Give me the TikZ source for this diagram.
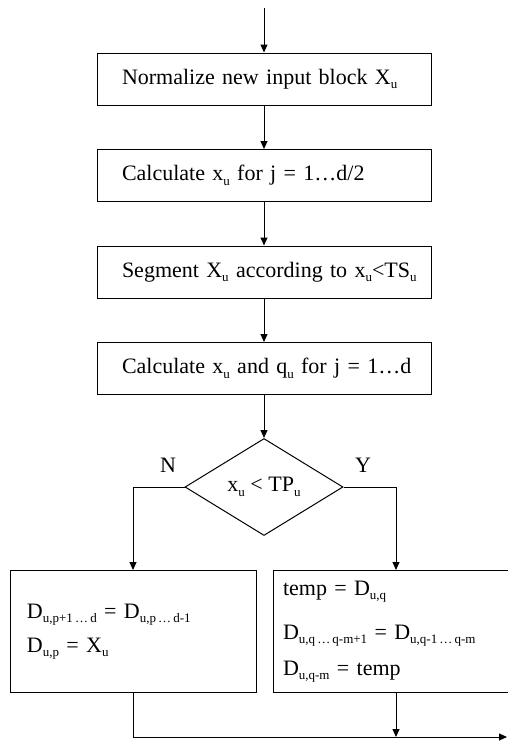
\documentclass[tikz,border=0pt]{standalone}
\usepackage{fontspec}
\setmainfont{Liberation Serif}
\usetikzlibrary{shapes.geometric,arrows.meta}
\newcommand\ix[1]{\raisebox{-0.45ex}{\fontsize{13}{13}\selectfont #1}}

\begin{document}
\begin{tikzpicture}[x=1pt,y=-1pt,
      blk/.style={draw,line width=1pt,minimum width=334pt,minimum height=52pt,
                  text width=284pt,align=left,inner sep=0pt,font=\fontsize{22}{26}\selectfont},
      upd/.style={draw,line width=1pt,minimum width=246pt,minimum height=122pt,
                  align=left,inner sep=0pt,font=\fontsize{22}{26}\selectfont},
      test/.style={draw,diamond,line width=1pt,minimum width=158pt,minimum height=97pt,
                   aspect=1.6,inner sep=0pt,font=\fontsize{22}{26}\selectfont},
      lbl/.style={font=\fontsize{22}{26}\selectfont,inner sep=0pt},
      go/.style={-{Triangle[length=8pt,width=7pt]},line width=1pt}]
    \useasboundingbox (0,0) rectangle (507,744);
    \coordinate (in) at (264,8);
    \node[blk] (norm) at (264,79)    {\mbox{Normalize new input block X\ix{u}}};
    \node[blk] (calc) at (264,175.5) {\mbox{Calculate x\ix{u} for j = 1…d/2}};
    \node[blk] (seg)  at (264,272)   {\mbox{Segment X\ix{u} according to x\ix{u}<TS\ix{u}}};
    \node[blk] (calq) at (264,368.5) {\mbox{Calculate x\ix{u} and q\ix{u} for j = 1…d}};
    \node[test] (cmp) at (264,487)   {x\ix{u} < TP\ix{u}};
    \node[lbl] (no)  at (168,465) {N};
    \node[lbl] (yes) at (363,465) {Y};
    \node[upd,text width=212pt] (keep) at (133,631.5)
      {D\ix{u,p+1\,…\,d} = D\ix{u,p\,…\,d-1}\\[8pt] D\ix{u,p} = X\ix{u}};
    \node[upd,text width=226pt] (shift) at (396,631.5)
      {temp = D\ix{u,q}\\[18pt] D\ix{u,q\,…\,q-m+1} = D\ix{u,q-1\,…\,q-m}\\[10pt] D\ix{u,q-m} = temp};
    \coordinate (out) at (507,737);
    \draw[go] (in) -- (norm);
    \draw[go] (norm) -- (calc);
    \draw[go] (calc) -- (seg);
    \draw[go] (seg) -- (calq);
    \draw[go] (calq) -- (cmp);
    \draw[go] (cmp.west) -| (keep.north);
    \draw[go] (cmp.east) -| (shift.north);
    \draw[go] (keep.south) |- (out);
    \draw[go] (shift.south) -- (shift.south |- out);
  \end{tikzpicture}
\end{document}
